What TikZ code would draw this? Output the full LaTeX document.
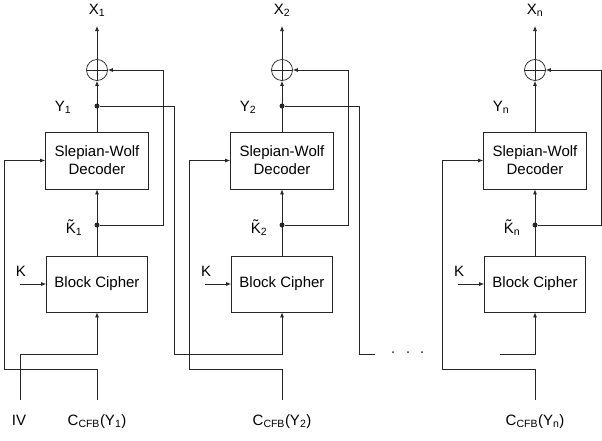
\documentclass[tikz,border=0pt]{standalone}
\usepackage{fontspec}
\setmainfont{Liberation Sans}
\usetikzlibrary{arrows.meta,positioning}

\begin{document}
\begin{tikzpicture}[x=1pt, y=-1pt, line width=0.75pt, color=black!85,
    >={Latex[length=5pt,width=4pt]},
    every node/.style={font=\fontsize{15}{18}\selectfont, text=black},
    block/.style={draw, minimum width=103pt, minimum height=57pt, inner sep=0pt, align=center},
    xorop/.style={draw, circle, minimum size=21pt, inner sep=0pt,
      path picture={\draw (path picture bounding box.north) -- (path picture bounding box.south)
        (path picture bounding box.west) -- (path picture bounding box.east);}},
    junction/.style={circle, fill, inner sep=0pt, minimum size=5pt}]
  \useasboundingbox (0,0) rectangle (602,440);
  % One decoding stage per column
  \foreach \cx/\s/\i in {97/1/a, 282/2/b, 535/n/c} {
    \node[xorop] (xor\i) at (\cx,70) {};
    \node[block] (sw\i) at (\cx,160.5) {Slepian-Wolf\\Decoder};
    \node[block, minimum width=101pt, minimum height=56pt] (bc\i) at (\cx,284) {Block Cipher};
    \coordinate (out\i) at (\cx,26);
    \coordinate (y\i) at (\cx,106);
    \node[junction] (kt\i) at (\cx,225) {};
    \coordinate (kin\i) at (\cx-77,284);
    \coordinate (cin\i) at (\cx,400);
    % Labels
    \node[anchor=base] (xl\i) at (\cx,14.5) {X\textsubscript{\s}};
    \node[anchor=base] (yl\i) at (\cx-34,111) {Y\textsubscript{\s}};
    \node[anchor=base] (ktl\i) at (\cx-23,233) {\~{K}\textsubscript{\s}};
    \node[anchor=base] (kl\i) at (\cx-76,276) {K};
    \node[anchor=base] (cl\i) at (\cx,425) {C\textsubscript{CFB}(Y\textsubscript{\s})};
    % Data path
    \draw[->] (xor\i) -- (out\i);
    \draw[->] (sw\i) -- (xor\i);
    \draw[->] (bc\i) -- (sw\i);
    \draw[->] (kin\i) -- (bc\i);
    \draw[->] (kt\i) -| (\cx+66,70) -- (xor\i);
    \draw[->] (cin\i) |- (\cx-93,369) |- (sw\i);
  }
  % Y fed forward to the next stage
  \node[junction] (yja) at (ya) {};
  \node[junction] (yjb) at (yb) {};
  \coordinate (dotsend) at (375,354);
  \coordinate (dotsstart) at (500,354);
  \draw[->] (yja) -| (174,354) -| (bcb);
  \draw (yjb) -| (359,354) -- (dotsend);
  \draw[->] (dotsstart) -| (bcc);
  \foreach \dx in {393,408,422}
    \fill (\dx,352) circle (1pt);
  % Initial vector
  \coordinate (iv) at (20,400);
  \node[anchor=base] (ivl) at (19,425) {IV};
  \draw[->] (iv) -- (20,354) -| (bca);
\end{tikzpicture}
\end{document}
